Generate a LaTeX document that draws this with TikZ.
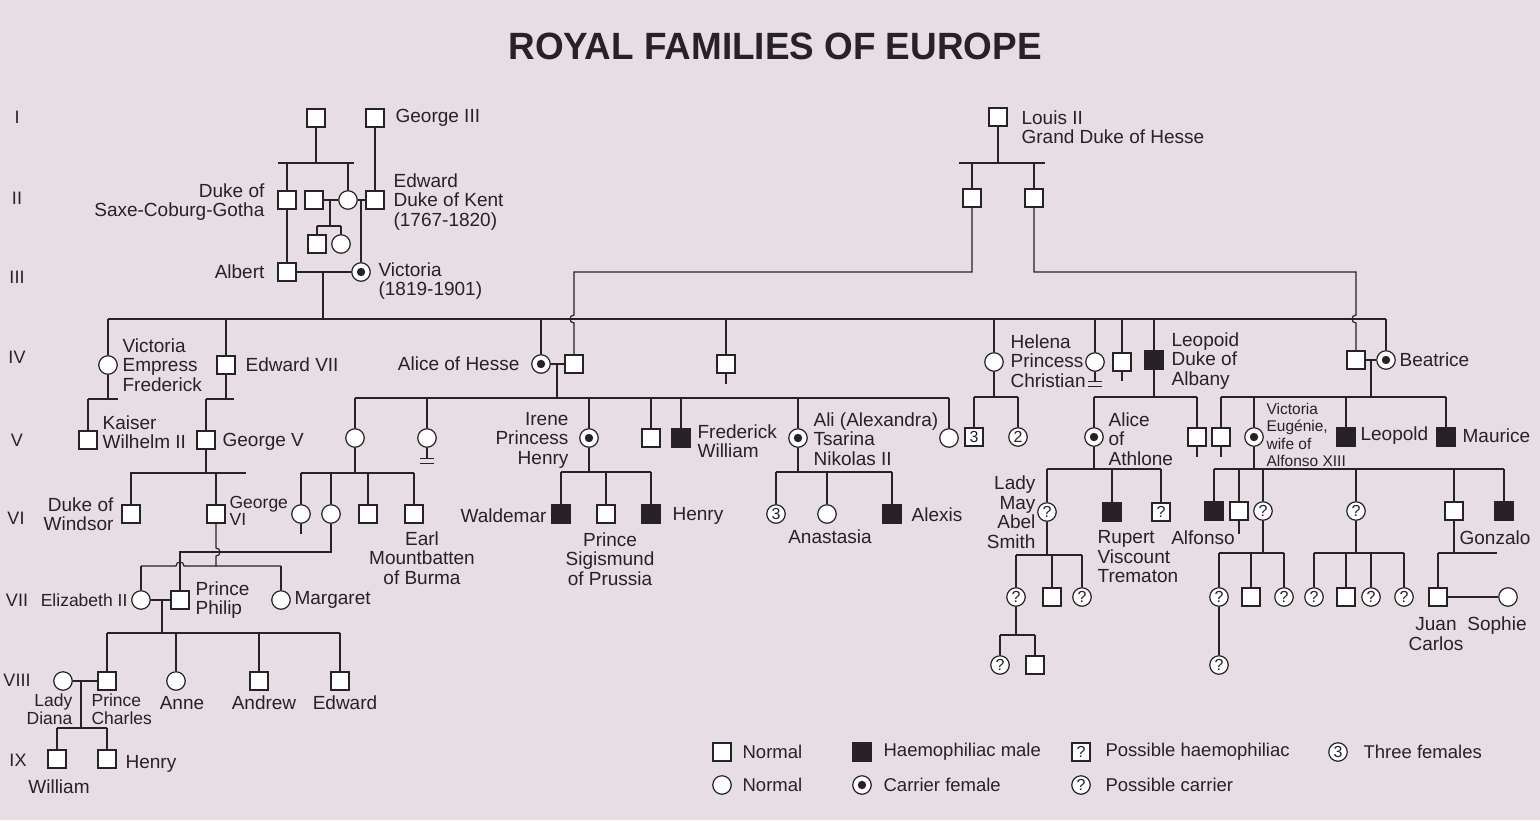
\documentclass[tikz,border=0pt]{standalone}
\usepackage{fontspec}
\setmainfont{Liberation Sans}
\definecolor{paper}{RGB}{230,221,229}
\definecolor{ink}{RGB}{38,34,38}
\tikzset{
  person/.style={draw, fill=white, inner sep=0pt, font=\fontsize{16}{16}\selectfont},
  male/.style={person, rectangle, minimum size=18pt},
  female/.style={person, circle, minimum size=18.5pt},
  hmale/.style={male, fill=ink},
  carrier/.style={female, path picture={\fill[ink] (path picture bounding box.center) circle (4.2pt);}},
  lab/.style={inner sep=0pt, font=\fontsize{19}{19.5}\selectfont},
  slab/.style={inner sep=0pt, font=\fontsize{17.5}{17.5}\selectfont},
  tlab/.style={inner sep=0pt, font=\fontsize{15.5}{17.3}\selectfont},
  genno/.style={inner sep=0pt, font=\fontsize{18}{18}\selectfont},
  keylab/.style={inner sep=0pt, anchor=west, font=\fontsize{18.5}{18.5}\selectfont},
}
\begin{document}
\begin{tikzpicture}[x=1pt, y=-1pt, line width=1.2pt, color=ink]
      \fill[paper] (0,0) rectangle (1540,820);
      \node (title) at (775,46) {\scalebox{0.97}[1]{\fontsize{38}{40}\selectfont\bfseries ROYAL FAMILIES OF EUROPE}};
      % generations
      \node[genno] (gI) at (17,117) {I};
      \node[genno] (gII) at (17,198) {II};
      \node[genno] (gIII) at (17,277) {III};
      \node[genno] (gIV) at (17,357) {IV};
      \node[genno] (gV) at (17,440) {V};
      \node[genno] (gVI) at (16,518) {VI};
      \node[genno] (gVII) at (17,600) {VII};
      \node[genno] (gVIII) at (17,680) {VIII};
      \node[genno] (gIX) at (18,760) {IX};
      % I - III
      \node[male] (gpa) at (316,118) {};
      \node[male] (geo3) at (375,118) {};
      \node[male] (saxe) at (287,200) {};
      \node[male] (emich) at (314,200) {};
      \node[female] (vmarie) at (348,200) {};
      \node[male] (kent) at (375,200) {};
      \node[male] (carl) at (317,244) {};
      \node[female] (feodora) at (341,244) {};
      \node[male] (albert) at (287,272) {};
      \node[carrier] (victoria) at (361,272) {};
      \node[male] (louis) at (998,117) {};
      \node[male] (hes1) at (972,198) {};
      \node[male] (hes2) at (1034,198) {};
      % IV
      \node[female] (vicE) at (108,365) {};
      \node[male] (ed7) at (226,365) {};
      \node[carrier] (alice) at (541,364) {};
      \node[male] (ludwig) at (574,364) {};
      \node[male] (alfred) at (726,364) {};
      \node[female] (helena) at (994,362) {};
      \node[female] (louise) at (1095,362) {};
      \node[male] (arthur) at (1122,362) {};
      \node[hmale] (leopold) at (1154,360) {};
      \node[male] (henryB) at (1356,360) {};
      \node[carrier] (beatrice) at (1386,360) {};
      % V
      \node[male] (wilhelm) at (88,440) {};
      \node[male] (george5) at (206,440) {};
      \node[female] (vhesse) at (355,438) {};
      \node[female] (ella) at (427,438) {};
      \node[carrier] (irene) at (589,438) {};
      \node[male] (ernst) at (651,438) {};
      \node[hmale] (fritz) at (681,438) {};
      \node[carrier] (alix) at (798,438) {};
      \node[female] (marie) at (949,438) {};
      \node[male] (hsons) at (974,437) {3};
      \node[female] (hdaus) at (1018,437) {2};
      \node[carrier] (athlone) at (1094,437) {};
      \node[male] (cedward) at (1197,437) {};
      \node[male] (alexB) at (1221,437) {};
      \node[carrier] (ena) at (1254,437) {};
      \node[hmale] (leopoldB) at (1346,437) {};
      \node[hmale] (maurice) at (1446,437) {};
      % VI
      \node[male] (windsor) at (131,514) {};
      \node[male] (george6) at (216,514) {};
      \node[female] (louiseM) at (301,514) {};
      \node[female] (aliceB) at (331,514) {};
      \node[male] (georgeM) at (368,514) {};
      \node[male] (mountb) at (414,514) {};
      \node[hmale] (waldemar) at (561,514) {};
      \node[male] (sigis) at (606,514) {};
      \node[hmale] (henryP) at (651,514) {};
      \node[female] (gduch) at (776,514) {3};
      \node[female] (anast) at (827,514) {};
      \node[hmale] (alexis) at (892,514) {};
      \node[female] (lmay) at (1047,512) {?};
      \node[hmale] (rupert) at (1112,512) {};
      \node[male] (mteck) at (1161,512) {?};
      \node[hmale] (alfonso) at (1214,511) {};
      \node[male] (jaime) at (1239,511) {};
      \node[female] (beatriz) at (1263,511) {?};
      \node[female] (mcris) at (1356,511) {?};
      \node[male] (juan) at (1454,511) {};
      \node[hmale] (gonzalo) at (1504,511) {};
      % VII
      \node[female] (eliz) at (141,600) {};
      \node[male] (philip) at (180,600) {};
      \node[female] (margaret) at (281,600) {};
      \node[female] (lmA) at (1016,597) {?};
      \node[male] (lmB) at (1052,597) {};
      \node[female] (lmC) at (1082,597) {?};
      \node[female] (btA) at (1219,597) {?};
      \node[male] (btB) at (1251,597) {};
      \node[female] (btC) at (1284,597) {?};
      \node[female] (mcA) at (1314,597) {?};
      \node[male] (mcB) at (1346,597) {};
      \node[female] (mcC) at (1371,597) {?};
      \node[female] (mcD) at (1404,597) {?};
      \node[male] (jcarlos) at (1438,597) {};
      \node[female] (sophie) at (1508,597) {};
      % VIII - IX
      \node[female] (diana) at (63,681) {};
      \node[male] (charles) at (107,681) {};
      \node[female] (anne) at (176,681) {};
      \node[male] (andrew) at (259,681) {};
      \node[male] (edwardP) at (340,681) {};
      \node[female] (lmAA) at (1000,665) {?};
      \node[male] (lmAB) at (1035,665) {};
      \node[female] (btAA) at (1219,665) {?};
      \node[male] (william) at (57,759) {};
      \node[male] (harry) at (107,759) {};
      % names
      \node[lab, anchor=west] (geo3L) at (395,118) {George III};
      \node[lab, anchor=east, align=right] (saxeL) at (265,202) {Duke of\\Saxe-Coburg-Gotha};
      \node[lab, anchor=west, align=left] (kentL) at (393,202) {Edward\\Duke of Kent\\(1767-1820)};
      \node[lab, anchor=east] (albertL) at (265,272) {Albert};
      \node[lab, anchor=west, align=left] (victoriaL) at (378,281) {Victoria\\(1819-1901)};
      \node[lab, anchor=west, align=left] (louisL) at (1021,127) {Louis II\\Grand Duke of Hesse};
      \node[lab, anchor=west, align=left] (vicEL) at (122,365) {Victoria\\Empress\\Frederick};
      \node[lab, anchor=west] (ed7L) at (245,365) {Edward VII};
      \node[lab, anchor=east] (aliceL) at (520,364) {Alice of Hesse};
      \node[lab, anchor=west, align=left] (helenaL) at (1010,361) {Helena\\Princess\\Christian};
      \node[lab, anchor=west, align=left] (leopoldL) at (1171,361) {Leopoid\\Duke of\\Albany};
      \node[lab, anchor=west] (beatriceL) at (1399,360) {Beatrice};
      \node[lab, anchor=west, align=left] (wilhelmL) at (102,432) {Kaiser\\Wilhelm II};
      \node[lab, anchor=west] (george5L) at (222,442) {George V};
      \node[lab, anchor=east, align=right] (ireneL) at (569,440) {Irene\\Princess\\Henry};
      \node[lab, anchor=west, align=left] (fritzL) at (697,441) {Frederick\\William};
      \node[lab, anchor=west, align=left] (alixL) at (813,439) {Ali (Alexandra)\\Tsarina\\Nikolas II};
      \node[lab, anchor=west, align=left] (athloneL) at (1108,439) {Alice\\of\\Athlone};
      \node[tlab, anchor=west, align=left] (enaL) at (1266,435) {Victoria\\Eugénie,\\wife of\\Alfonso XIII};
      \node[lab, anchor=west] (leopoldBL) at (1360,436) {Leopold};
      \node[lab, anchor=west] (mauriceL) at (1462,436) {Maurice};
      \node[lab, anchor=east, align=right] (windsorL) at (114,514) {Duke of\\Windsor};
      \node[slab, anchor=west, align=left] (george6L) at (229,511) {George\\VI};
      \node[lab, align=center] (mountbL) at (422,558) {Earl\\Mountbatten\\of Burma};
      \node[lab, anchor=east] (waldemarL) at (547,516) {Waldemar};
      \node[lab, align=center] (sigisL) at (610,559) {Prince\\Sigismund\\of Prussia};
      \node[lab, anchor=west] (henryPL) at (672,516) {Henry};
      \node[lab] (anastL) at (830,537) {Anastasia};
      \node[lab, anchor=west] (alexisL) at (911,515) {Alexis};
      \node[lab, anchor=east, align=right] (lmayL) at (1036,512) {Lady\\May\\Abel\\Smith};
      \node[lab, anchor=west, align=left] (rupertL) at (1097,557) {Rupert\\Viscount\\Trematon};
      \node[lab] (alfonsoL) at (1203,538) {Alfonso};
      \node[lab] (gonzaloL) at (1495,538) {Gonzalo};
      \node[slab, anchor=east] (elizL) at (128,600) {Elizabeth II};
      \node[lab, anchor=west, align=left] (philipL) at (195,600) {Prince\\Philip};
      \node[lab, anchor=west] (margaretL) at (294,600) {Margaret};
      \node[lab, align=center] (jcarlosL) at (1436,634) {Juan\\Carlos};
      \node[lab] (sophieL) at (1497,626) {Sophie};
      \node[slab, anchor=east, align=right] (dianaL) at (73,709) {Lady\\Diana};
      \node[slab, anchor=west, align=left] (charlesL) at (91,709) {Prince\\Charles};
      \node[lab] (anneL) at (182,703) {Anne};
      \node[lab] (andrewL) at (264,703) {Andrew};
      \node[lab] (edwardPL) at (345,703) {Edward};
      \node[lab] (williamL) at (59,787) {William};
      \node[lab, anchor=west] (harryL) at (125,764) {Henry};
      % key
      \node[male] (keyM) at (722,752) {};
      \node[keylab] (keyML) at (742,752) {Normal};
      \node[female] (keyF) at (722,785) {};
      \node[keylab] (keyFL) at (742,785) {Normal};
      \node[hmale] (keyH) at (862,752) {};
      \node[keylab] (keyHL) at (883,752) {Haemophiliac male};
      \node[carrier] (keyC) at (862,785) {};
      \node[keylab] (keyCL) at (883,785) {Carrier female};
      \node[male] (keyPH) at (1081,752) {?};
      \node[keylab] (keyPHL) at (1105,752) {Possible haemophiliac};
      \node[female] (keyPC) at (1081,785) {?};
      \node[keylab] (keyPCL) at (1105,785) {Possible carrier};
      \node[female] (keyT) at (1338,752) {3};
      \node[keylab] (keyTL) at (1363,752) {Three females};
      \begin{scope}[-]
        % I -> III
        \coordinate (s1L) at (278,163); \coordinate (s1R) at (354,163);
        \draw (gpa) to (gpa |- s1L);
        \draw (s1L) to (s1R);
        \draw (saxe) to (saxe |- s1L);
        \draw (vmarie) to (vmarie |- s1L);
        \draw (geo3) to (kent);
        \draw (emich) to (vmarie);
        \draw (vmarie) to (kent);
        \coordinate (emM) at (330,200); \coordinate (s2L) at (317,226); \coordinate (s2R) at (341,226);
        \draw (emM) to (emM |- s2L);
        \draw (s2L) to (s2R);
        \draw (carl) to (s2L);
        \draw (feodora) to (s2R);
        \coordinate (kM) at (361,200);
        \draw (kM) to (victoria);
        \draw (saxe) to (albert);
        \draw (albert) to (victoria);
        % III -> IV
        \coordinate (avM) at (323,272); \coordinate (ivL) at (108,319); \coordinate (ivR) at (1386,319);
        \draw (avM) to (avM |- ivL);
        \draw (ivL) to (ivR);
        \draw (vicE) to (vicE |- ivL);
        \draw (ed7) to (ed7 |- ivL);
        \draw (alice) to (alice |- ivL);
        \draw (alfred) to (alfred |- ivL);
        \draw (helena) to (helena |- ivL);
        \draw (louise) to (louise |- ivL);
        \draw (arthur) to (arthur |- ivL);
        \draw (leopold) to (leopold |- ivL);
        \draw (beatrice) to (beatrice |- ivL);
        % Hesse
        \coordinate (hsL) at (959,163); \coordinate (hsR) at (1045,163);
        \draw (louis) to (louis |- hsL);
        \draw (hsL) to (hsR);
        \draw (hes1) to (hes1 |- hsL);
        \draw (hes2) to (hes2 |- hsL);
        \coordinate (h1c) at (574,272); \coordinate (h2c) at (1356,272);
        \draw (hes1) |- (h1c) -- (574,315) .. controls (568.7,315) and (568.7,323) .. (574,323) -- (ludwig);
        \draw (hes2) |- (h2c) -- (1356,315) .. controls (1350.7,315) and (1350.7,323) .. (1356,323) -- (henryB);
        % IV -> V
        \coordinate (kA) at (88,399); \coordinate (kB) at (118,399);
        \draw (vicE) to (vicE |- kA);
        \draw (kA) to (kB);
        \draw (wilhelm) to (kA);
        \coordinate (gA) at (206,399); \coordinate (gB) at (234,399);
        \draw (ed7) to (ed7 |- gA);
        \draw (gA) to (gB);
        \draw (george5) to (gA);
        \draw (alice) to (ludwig);
        \coordinate (alM) at (557,364); \coordinate (aA) at (355,398); \coordinate (aB) at (949,398);
        \draw (alM) to (alM |- aA);
        \draw (aA) to (aB);
        \draw (vhesse) to (vhesse |- aA);
        \draw (ella) to (ella |- aA);
        \draw (irene) to (irene |- aA);
        \draw (ernst) to (ernst |- aA);
        \draw (fritz) to (fritz |- aA);
        \draw (alix) to (alix |- aA);
        \draw (marie) to (marie |- aA);
        \coordinate (hA) at (974,397); \coordinate (hB) at (1018,397);
        \draw (helena) to (helena |- hA);
        \draw (hA) to (hB);
        \draw (hsons) to (hA);
        \draw (hdaus) to (hB);
        \coordinate (lA) at (1094,397); \coordinate (lB) at (1197,397);
        \draw (leopold) to (leopold |- lA);
        \draw (lA) to (lB);
        \draw (athlone) to (lA);
        \draw (cedward) to (lB);
        \draw (henryB) to (beatrice);
        \coordinate (bM) at (1371,360); \coordinate (bA) at (1221,397); \coordinate (bB) at (1446,397);
        \draw (bM) to (bM |- bA);
        \draw (bA) to (bB);
        \draw (alexB) to (alexB |- bA);
        \draw (ena) to (ena |- bA);
        \draw (leopoldB) to (leopoldB |- bA);
        \draw (maurice) to (maurice |- bA);
        % no issue shown
        \draw (alfred.south) -- ++(0,10);
        \draw (arthur.south) -- ++(0,9);
        \draw (cedward.south) -- ++(0,10);
        \draw (alexB.south) -- ++(0,10);
        \draw (jaime.south) -- ++(0,13);
        \draw (louiseM.south) -- ++(0,10);
        \draw (ella.south) -- ++(0,11) ++(-7,0) -- ++(14,0) ++(-14,5) -- ++(14,0);
        \draw (louise.south) -- ++(0,10) ++(-7,0) -- ++(14,0) ++(-14,5) -- ++(14,0);
        % V -> VI
        \coordinate (wA) at (130,473); \coordinate (wB) at (246,473);
        \draw (george5) to (george5 |- wA);
        \draw (wA) to (wB);
        \draw (windsor) to (windsor |- wA);
        \draw (george6) to (george6 |- wA);
        \coordinate (vA) at (301,473); \coordinate (vB) at (414,473);
        \draw (vhesse) to (vhesse |- vA);
        \draw (vA) to (vB);
        \draw (louiseM) to (vA);
        \draw (aliceB) to (aliceB |- vA);
        \draw (georgeM) to (georgeM |- vA);
        \draw (mountb) to (vB);
        \coordinate (iA) at (561,472); \coordinate (iB) at (651,472);
        \draw (irene) to (irene |- iA);
        \draw (iA) to (iB);
        \draw (waldemar) to (iA);
        \draw (sigis) to (sigis |- iA);
        \draw (henryP) to (iB);
        \coordinate (xA) at (776,472); \coordinate (xB) at (892,472);
        \draw (alix) to (alix |- xA);
        \draw (xA) to (xB);
        \draw (gduch) to (xA);
        \draw (anast) to (anast |- xA);
        \draw (alexis) to (xB);
        \coordinate (tA) at (1047,469); \coordinate (tB) at (1161,469);
        \draw (athlone) to (athlone |- tA);
        \draw (tA) to (tB);
        \draw (lmay) to (tA);
        \draw (rupert) to (rupert |- tA);
        \draw (mteck) to (tB);
        \coordinate (eA) at (1214,469); \coordinate (eB) at (1504,469);
        \draw (ena) to (ena |- eA);
        \draw (eA) to (eB);
        \draw (alfonso) to (eA);
        \draw (jaime) to (jaime |- eA);
        \draw (beatriz) to (beatriz |- eA);
        \draw (mcris) to (mcris |- eA);
        \draw (juan) to (juan |- eA);
        \draw (gonzalo) to (eB);
        % VI -> IX
        \coordinate (zA) at (141,566); \coordinate (zB) at (281,566); \coordinate (zM) at (216,566);
        \draw (george6) -- (216,548) .. controls (221.3,548) and (221.3,556) .. (216,556) -- (zM);
        \draw (zA) -- (176,566) .. controls (176,560.7) and (184,560.7) .. (184,566) -- (zB);
        \draw (eliz) to (zA);
        \draw (margaret) to (zB);
        \coordinate (pA) at (331,552); \coordinate (pB) at (180,552);
        \draw (aliceB) -- (pA) -- (pB) -- (philip);
        \draw (eliz) to (philip);
        \coordinate (epM) at (162,600); \coordinate (cA) at (107,633); \coordinate (cB) at (340,633);
        \draw (epM) to (epM |- cA);
        \draw (cA) to (cB);
        \draw (charles) to (cA);
        \draw (anne) to (anne |- cA);
        \draw (andrew) to (andrew |- cA);
        \draw (edwardP) to (cB);
        \draw (diana) to (charles);
        \coordinate (dcM) at (81,681); \coordinate (dA) at (57,728); \coordinate (dB) at (107,728);
        \draw (dcM) to (dcM |- dA);
        \draw (dA) to (dB);
        \draw (william) to (dA);
        \draw (harry) to (dB);
        \coordinate (mA) at (1016,555); \coordinate (mB) at (1082,555);
        \draw (lmay) to (lmay |- mA);
        \draw (mA) to (mB);
        \draw (lmA) to (mA);
        \draw (lmB) to (lmB |- mA);
        \draw (lmC) to (mB);
        \coordinate (nA) at (1000,635); \coordinate (nB) at (1035,635);
        \draw (lmA) to (lmA |- nA);
        \draw (nA) to (nB);
        \draw (lmAA) to (nA);
        \draw (lmAB) to (nB);
        \coordinate (rA) at (1219,553); \coordinate (rB) at (1284,553);
        \draw (beatriz) to (beatriz |- rA);
        \draw (rA) to (rB);
        \draw (btA) to (rA);
        \draw (btB) to (btB |- rA);
        \draw (btC) to (rB);
        \draw (btA) to (btAA);
        \coordinate (qA) at (1314,553); \coordinate (qB) at (1404,553);
        \draw (mcris) to (mcris |- qA);
        \draw (qA) to (qB);
        \draw (mcA) to (qA);
        \draw (mcB) to (mcB |- qA);
        \draw (mcC) to (mcC |- qA);
        \draw (mcD) to (qB);
        \coordinate (jA) at (1438,553); \coordinate (jB) at (1497,553);
        \draw (juan) to (juan |- jA);
        \draw (jA) to (jB);
        \draw (jcarlos) to (jA);
        \draw (jcarlos) to (sophie);
      \end{scope}
    \end{tikzpicture}
\end{document}
